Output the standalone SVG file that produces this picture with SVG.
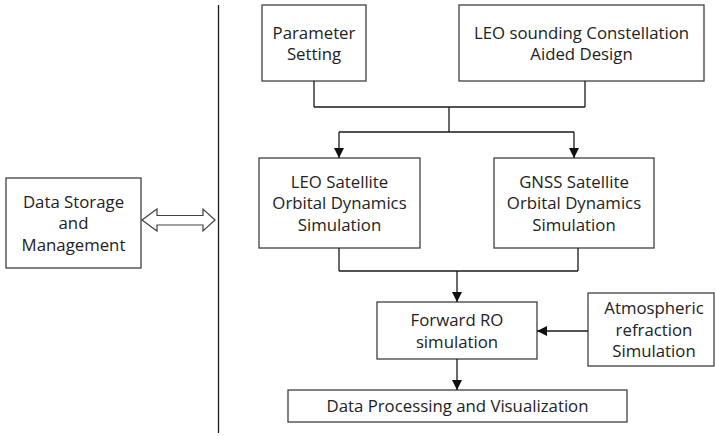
<svg xmlns="http://www.w3.org/2000/svg" width="715" height="436" viewBox="0 0 715 436">
<style>
.box{fill:#fff;stroke:#404040;stroke-width:1.3}
.ln{fill:none;stroke:#1a1a1a;stroke-width:1.3}
text{font-family:"Open Sans","Liberation Sans",Arial,sans-serif;font-size:16.8px;fill:#222;text-anchor:middle}
</style>
<defs>
<marker id="ah" viewBox="0 0 10 10" refX="10" refY="5" markerWidth="10" markerHeight="10" markerUnits="userSpaceOnUse" orient="auto">
<path d="M0,0 L10,5 L0,10 z" fill="#111"/>
</marker>
</defs>
<rect width="715" height="436" fill="#fff"/>
<line x1="218.5" y1="5" x2="218.5" y2="433" class="ln"/>
<g id="storage">
<rect class="box" x="6" y="178" width="135" height="90"/>
<text x="73.5" y="207.5">Data Storage</text>
<text x="73.5" y="229">and</text>
<text x="73.5" y="250.5">Management</text>
</g>
<g id="param">
<rect class="box" x="262" y="5" width="104" height="76"/>
<text x="314" y="38.5">Parameter</text>
<text x="314" y="60">Setting</text>
</g>
<g id="leo-design">
<rect class="box" x="459" y="5" width="245" height="76"/>
<text x="581.5" y="38.5">LEO sounding Constellation</text>
<text x="581.5" y="60">Aided Design</text>
</g>
<g id="leo-sim">
<rect class="box" x="259" y="158" width="161" height="90"/>
<text x="339.5" y="187.5">LEO Satellite</text>
<text x="339.5" y="209">Orbital Dynamics</text>
<text x="339.5" y="230.5">Simulation</text>
</g>
<g id="gnss-sim">
<rect class="box" x="494" y="158" width="160" height="90"/>
<text x="574" y="187.5">GNSS Satellite</text>
<text x="574" y="209">Orbital Dynamics</text>
<text x="574" y="230.5">Simulation</text>
</g>
<g id="forward">
<rect class="box" x="377" y="302" width="160" height="57"/>
<text x="457" y="326">Forward RO</text>
<text x="457" y="347.5">simulation</text>
</g>
<g id="atmos">
<rect class="box" x="588" y="293" width="126" height="73"/>
<text x="654" y="314">Atmospheric</text>
<text x="654" y="335.5">refraction</text>
<text x="654" y="357">Simulation</text>
</g>
<g id="dataproc">
<rect class="box" x="288" y="390" width="339" height="32"/>
<text x="457.5" y="412">Data Processing and Visualization</text>
</g>
<g id="connectors">
<polygon points="142,220 157,209 157,215.5 203,215.5 203,209 215,220 203,231 203,225 157,225 157,231" fill="#fff" stroke="#404040" stroke-width="1.2"/>
<path class="ln" d="M314,81 V107 M585,81 V107 M314,107 H585 M449,107 V132 M339,132 H574"/>
<line class="ln" x1="339" y1="132" x2="339" y2="158" marker-end="url(#ah)"/>
<line class="ln" x1="574" y1="132" x2="574" y2="158" marker-end="url(#ah)"/>
<path class="ln" d="M339,248 V271 M578,248 V271 M339,271 H578"/>
<line class="ln" x1="457" y1="271" x2="457" y2="302" marker-end="url(#ah)"/>
<line class="ln" x1="588" y1="331" x2="537" y2="331" marker-end="url(#ah)"/>
<line class="ln" x1="457" y1="359" x2="457" y2="390" marker-end="url(#ah)"/>
</g>
</svg>
